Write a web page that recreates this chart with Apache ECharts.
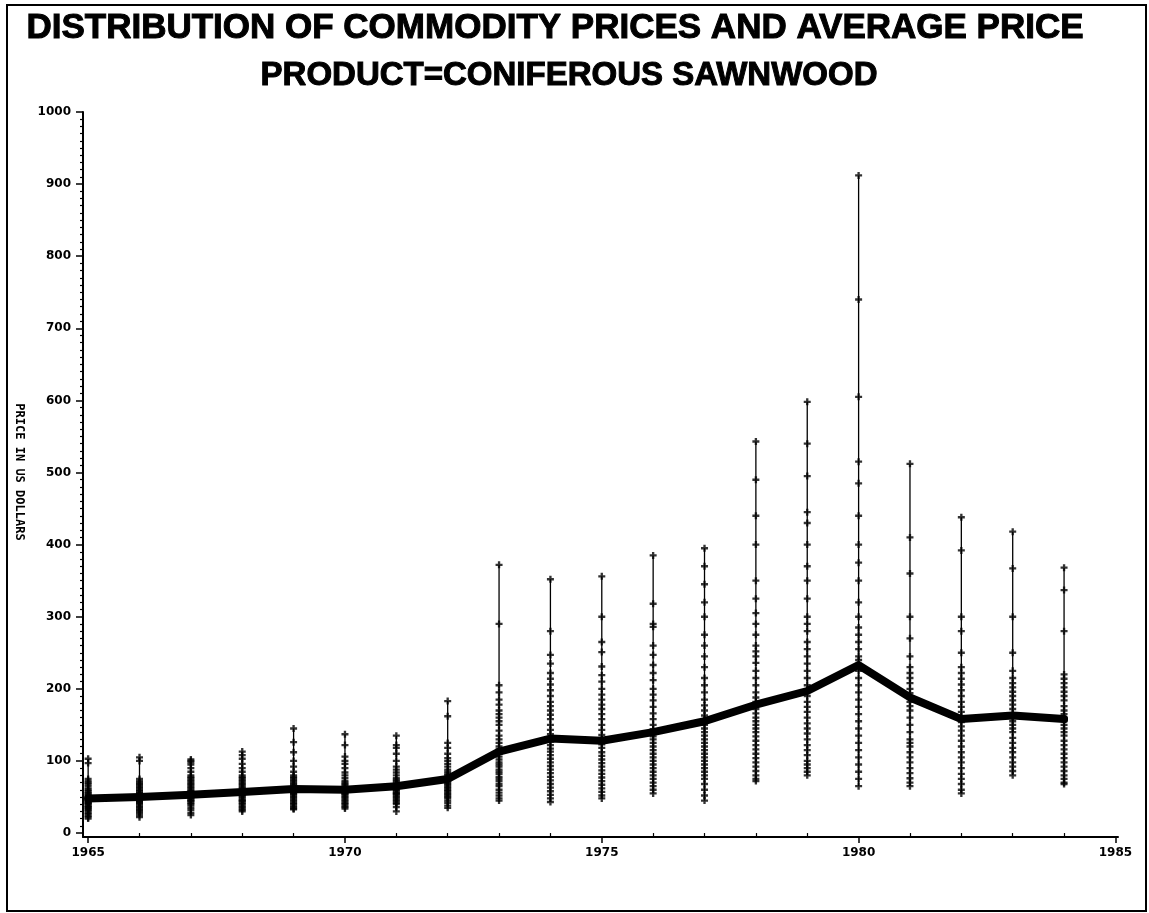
<!DOCTYPE html>
<html><head><meta charset="utf-8">
<script src="https://cdn.jsdelivr.net/npm/echarts@6/dist/echarts.min.js"></script>
<style>html,body{margin:0;padding:0;background:#fff}#c{width:1149px;height:913px}</style>
</head><body><div id="c"></div>
<script>
const titleText = 'DISTRIBUTION OF COMMODITY PRICES AND AVERAGE PRICE';
const subtitleText = 'PRODUCT=CONIFEROUS SAWNWOOD';
const yAxisTitle = 'PRICE IN US DOLLARS';

const years = [1965,1966,1967,1968,1969,1970,1971,1972,1973,1974,1975,1976,1977,1978,1979,1980,1981,1982,1983,1984];
const avgPrice = [48,50,53,57,61,60,65,75,113,131,128,140,155,178,197,233,188,158,163,158];

const p1965 = [103,97,75,72,70,68,65,62,60,58,56,55,53,52,50,49,48,47,46,45,44,43,42,41,40,38,37,36,35,33,32,30,28,26,24,22,20];
const p1966 = [105,100,75,72,70,68,66,64,62,60,58,56,55,54,53,52,51,50,49,48,47,46,45,44,43,42,40,38,36,34,32,30,28,25,22];
const p1967 = [102,100,98,95,90,85,80,78,76,74,72,70,68,66,64,62,60,58,56,55,54,52,50,49,48,46,45,44,42,40,38,35,32,28,25];
const p1968 = [113,108,103,96,90,85,80,78,76,74,72,70,68,66,64,62,60,58,57,56,55,54,53,52,50,48,46,45,44,42,40,38,36,34,32,30];
const p1969 = [145,126,112,100,92,85,80,78,76,74,72,70,68,66,64,63,62,61,60,59,58,57,56,55,54,52,50,48,46,44,42,40,38,36,34,33];
const p1970 = [137,122,106,100,96,90,84,80,76,72,70,68,66,64,62,61,60,59,58,57,56,55,54,52,50,48,46,44,42,40,38,36,34];
const p1971 = [135,122,118,110,100,92,88,84,80,76,74,72,70,68,66,65,64,63,62,60,58,56,55,54,52,50,48,46,44,42,40,36,30];
const p1972 = [183,162,125,118,110,104,100,96,92,88,85,82,80,78,76,75,74,73,72,70,68,66,64,62,60,58,56,54,52,50,48,45,42,38,35];
const p1973 = [372,290,205,195,185,178,170,165,160,155,150,142,135,130,125,120,116,113,110,106,102,98,95,92,88,85,82,78,75,72,68,65,60,56,52,48,45];
const p1974 = [352,280,247,235,222,214,206,198,190,182,176,170,164,158,150,143,137,131,127,122,117,113,108,103,98,93,88,83,78,73,68,63,58,53,48,43];
const p1975 = [356,300,265,251,231,219,210,200,192,185,178,172,165,158,150,143,136,130,127,123,118,112,107,102,97,92,87,82,77,72,67,62,57,52,48];
const p1976 = [385,318,290,286,260,247,233,222,212,200,192,184,175,166,158,150,144,138,134,130,125,120,115,110,105,100,95,90,85,80,75,70,65,60,55];
const p1977 = [395,370,345,320,300,275,260,245,230,215,205,195,185,177,170,163,158,155,150,145,140,135,130,125,120,115,110,105,100,95,90,85,80,75,68,60,52,45];
const p1978 = [543,490,440,400,350,325,305,290,275,260,252,245,236,225,215,205,195,188,182,178,172,166,160,155,150,145,140,134,128,122,116,110,104,98,92,86,80,75,72];
const p1979 = [598,540,495,445,430,400,370,350,325,300,290,280,265,255,245,235,225,215,205,198,190,182,175,168,160,152,145,138,130,122,115,108,100,95,90,85,80];
const p1980 = [912,740,605,515,485,440,400,375,350,320,300,285,275,265,255,245,240,233,225,215,205,195,185,175,165,155,145,135,125,115,105,95,85,75,65];
const p1981 = [512,410,360,300,270,245,230,222,215,208,200,194,188,182,176,170,160,150,140,130,125,120,112,105,98,90,83,76,70,65];
const p1982 = [438,392,300,280,250,230,222,214,206,198,190,182,175,168,162,158,154,148,142,135,128,120,112,105,98,90,82,75,68,60,55];
const p1983 = [418,367,300,250,225,215,208,202,196,190,184,178,172,166,163,160,155,150,145,140,132,125,118,112,105,98,92,86,80];
const p1984 = [368,337,280,220,214,208,202,196,190,184,176,170,165,160,158,155,150,145,140,135,128,122,116,110,104,98,92,86,80,75,70,68];

const yTickLabels = [0,100,200,300,400,500,600,700,800,900,1000];
const xTickLabels = [1965,1970,1975,1980,1985];

const pricesByYear = [p1965,p1966,p1967,p1968,p1969,p1970,p1971,p1972,p1973,p1974,p1975,p1976,p1977,p1978,p1979,p1980,p1981,p1982,p1983,p1984];
const pointData = [];
const rangeData = [];
pricesByYear.forEach((arr, i) => {
  arr.forEach(v => pointData.push([years[i], v]));
  rangeData.push([years[i], Math.min(...arr), Math.max(...arr)]);
});
const avgData = years.map((y, i) => [y, avgPrice[i]]);
const yMinorTicks = [];
for (let v = 0; v <= 1000; v += 10) if (v % 100 !== 0) yMinorTicks.push(v);
const xMinorTicks = [];
for (let v = 1965; v <= 1985; v++) if (v % 5 !== 0) xMinorTicks.push(v);

const labelFont = {color:'#000', fontFamily:'DejaVu Sans', fontWeight:'bold', fontSize:12, formatter:(v) => String(v)};
const XMIN = 1964.9, XMAX = 1985.05, YMIN = -5.5, YMAX = 1000;

const chart = echarts.init(document.getElementById('c'), null, {renderer:'canvas'});
chart.setOption({
  animation:false,
  backgroundColor:'#fff',
  grid:{left:83, right:31, top:112, bottom:76, containLabel:false},
  graphic:[
    {type:'rect', shape:{x:7, y:5, width:1139, height:906}, style:{fill:'none', stroke:'#000', lineWidth:2}},
    {type:'text', x:555, y:28, style:{text:titleText, font:'bold 35px "Liberation Sans"', fill:'#000', stroke:'#000', lineWidth:1, textAlign:'center', textVerticalAlign:'middle'}},
    {type:'text', x:569, y:76, style:{text:subtitleText, font:'bold 33px "Liberation Sans"', fill:'#000', stroke:'#000', lineWidth:1, textAlign:'center', textVerticalAlign:'middle'}},
    {type:'text', x:19, y:472, rotation:-Math.PI/2, style:{text:yAxisTitle, font:'bold 12px "DejaVu Sans Mono"', fill:'#000', textAlign:'center', textVerticalAlign:'middle'}}
  ],
  xAxis:[
    {type:'value', min:XMIN, max:XMAX, position:'bottom',
     axisLine:{show:true, onZero:false, lineStyle:{color:'#000', width:2}},
     axisTick:{show:true, customValues:xTickLabels, length:6, lineStyle:{color:'#000', width:1.5}},
     axisLabel:{show:true, customValues:xTickLabels, margin:10, ...labelFont},
     splitLine:{show:false}},
    {type:'value', min:XMIN, max:XMAX, position:'bottom', offset:0,
     axisLine:{show:false},
     axisTick:{show:true, customValues:xMinorTicks, length:3, lineStyle:{color:'#000', width:1.2}},
     axisLabel:{show:false}, splitLine:{show:false}}
  ],
  yAxis:[
    {type:'value', min:YMIN, max:YMAX, position:'left',
     axisLine:{show:true, onZero:false, lineStyle:{color:'#000', width:2}},
     axisTick:{show:true, customValues:yTickLabels, length:7, lineStyle:{color:'#000', width:1.5}},
     axisLabel:{show:true, customValues:yTickLabels, margin:12, ...labelFont},
     splitLine:{show:false}},
    {type:'value', min:YMIN, max:YMAX, position:'left', offset:0,
     axisLine:{show:false},
     axisTick:{show:true, customValues:yMinorTicks, length:3, lineStyle:{color:'#000', width:1.2}},
     axisLabel:{show:false}, splitLine:{show:false}}
  ],
  series:[
    {type:'custom', xAxisIndex:0, yAxisIndex:0, data:rangeData, silent:true,
     renderItem:(params, api) => {
       const a = api.coord([api.value(0), api.value(1)]);
       const b = api.coord([api.value(0), api.value(2)]);
       return {type:'line', shape:{x1:a[0], y1:a[1], x2:b[0], y2:b[1]}, style:{stroke:'#000', lineWidth:1.3}};
     }},
    {type:'scatter', xAxisIndex:0, yAxisIndex:0, data:pointData, silent:true,
     symbol:'path://M-1,-3H1V-1H3V1H1V3H-1V1H-3V-1H-1Z', symbolSize:7,
     itemStyle:{color:'#000'}},
    {type:'line', xAxisIndex:0, yAxisIndex:0, data:avgData, silent:true,
     symbol:'none', lineStyle:{color:'#000', width:8, join:'round', cap:'round'}}
  ]
});
</script></body></html>
